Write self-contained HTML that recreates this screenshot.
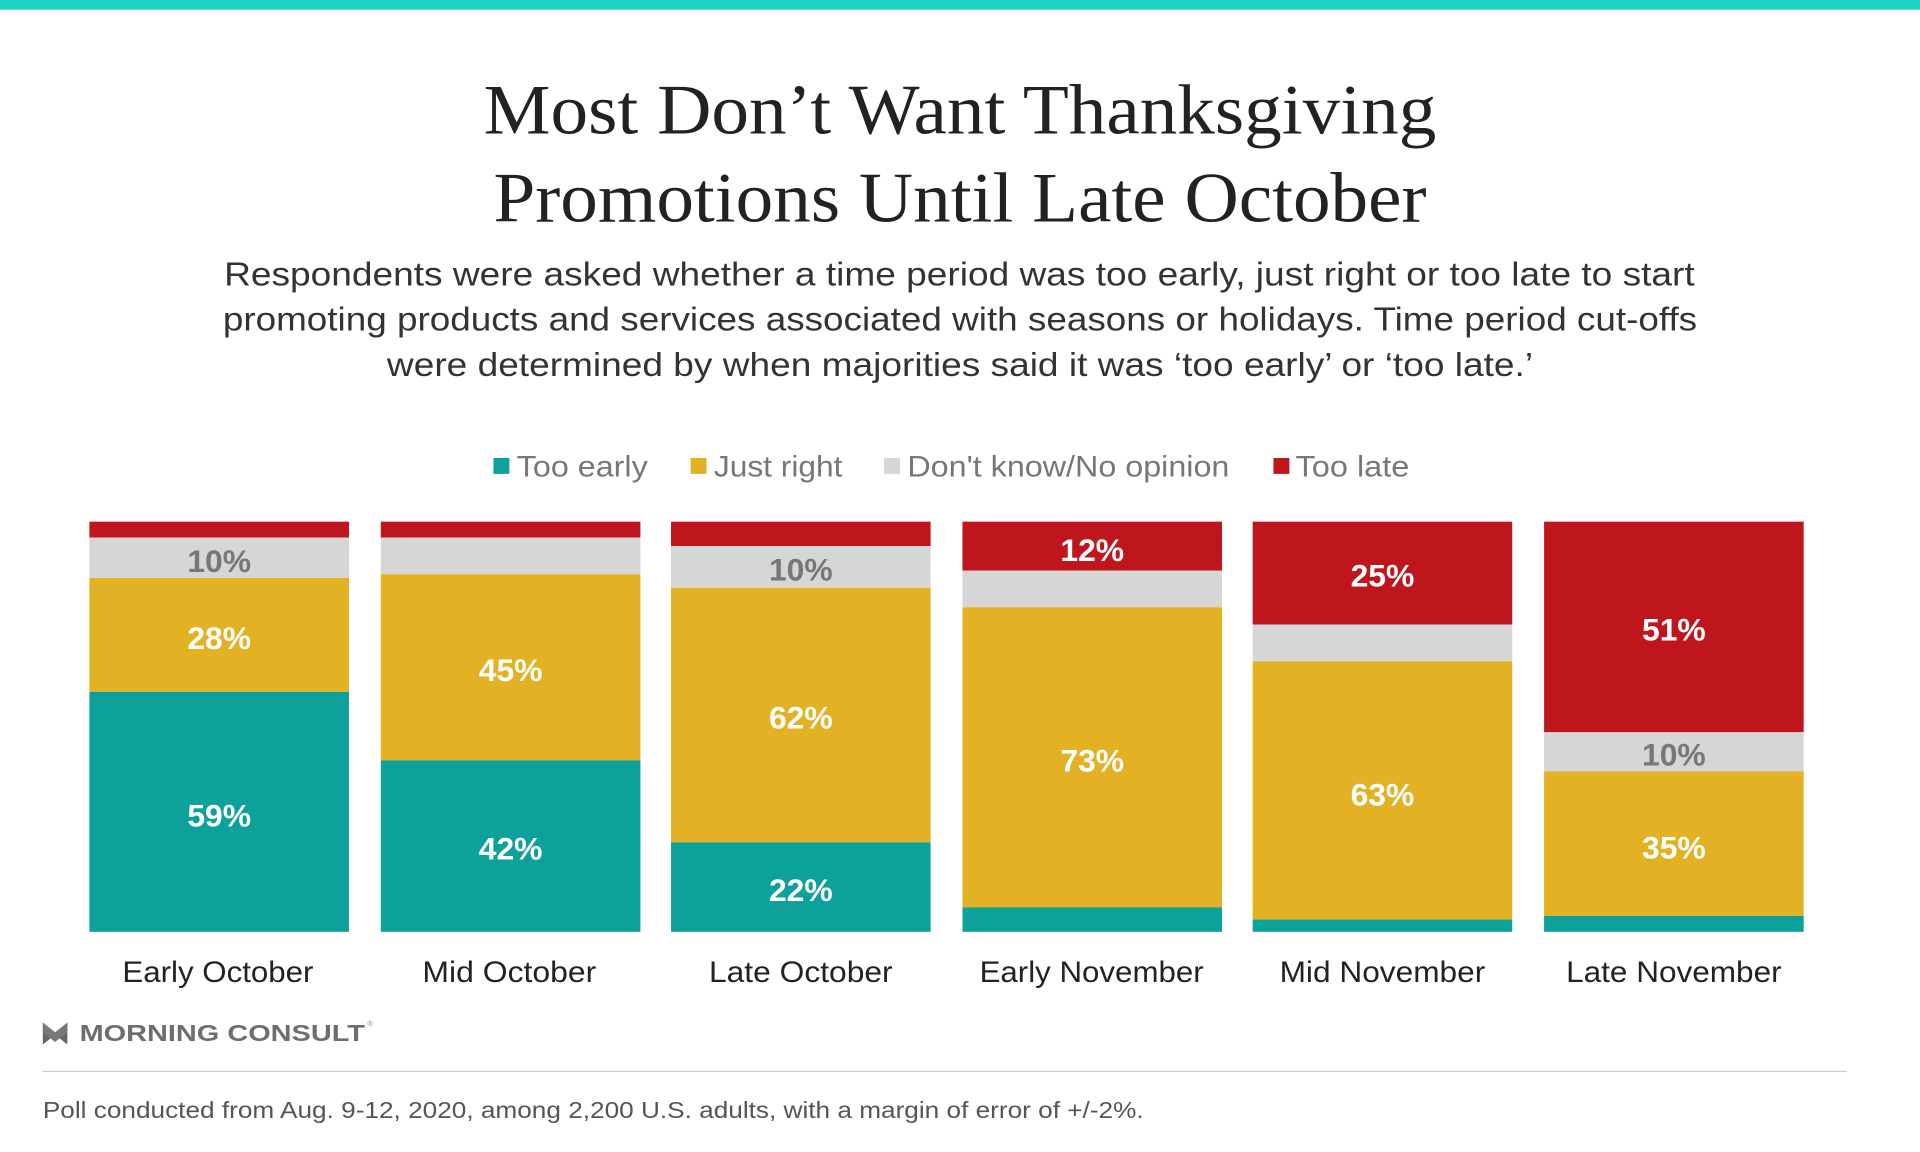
<!DOCTYPE html>
<html><head><meta charset="utf-8"><style>
html,body{margin:0;padding:0;background:#fff;}
svg{display:block;}
</style></head><body>
<svg width="1920" height="1152" viewBox="0 0 1568 940.8" preserveAspectRatio="none" xmlns="http://www.w3.org/2000/svg">
<rect x="0" y="0" width="1568" height="8" fill="#1fd3c6"/>
<g font-family="Liberation Serif, serif" font-size="58" fill="#222" lengthAdjust="spacingAndGlyphs">
<text x="395" y="109" textLength="778" lengthAdjust="spacingAndGlyphs">Most Don’t Want Thanksgiving</text>
<text x="403" y="181" textLength="762" lengthAdjust="spacingAndGlyphs">Promotions Until Late October</text>
</g>
<g font-family="Liberation Sans, sans-serif" font-size="27" fill="#333">
<text x="183" y="233" textLength="1201" lengthAdjust="spacingAndGlyphs">Respondents were asked whether a time period was too early, just right or too late to start</text>
<text x="182" y="270" textLength="1204" lengthAdjust="spacingAndGlyphs">promoting products and services associated with seasons or holidays. Time period cut-offs</text>
<text x="316" y="307" textLength="936" lengthAdjust="spacingAndGlyphs">were determined by when majorities said it was ‘too early’ or ‘too late.’</text>
</g>
<g font-family="Liberation Sans, sans-serif" font-size="24" fill="#777">
<rect x="403" y="374" width="13" height="13" fill="#0ca19a"/><text x="422" y="389" textLength="107" lengthAdjust="spacingAndGlyphs">Too early</text>
<rect x="564" y="374" width="13" height="13" fill="#e2b224"/><text x="583" y="389" textLength="105" lengthAdjust="spacingAndGlyphs">Just right</text>
<rect x="722" y="374" width="13" height="13" fill="#d6d6d6"/><text x="741" y="389" textLength="263" lengthAdjust="spacingAndGlyphs">Don't know/No opinion</text>
<rect x="1040" y="374" width="13" height="13" fill="#be161c"/><text x="1058" y="389" textLength="93" lengthAdjust="spacingAndGlyphs">Too late</text>
</g>
<g>
<rect x="73" y="426" width="212" height="13" fill="#be161c"/>
<rect x="73" y="439" width="212" height="33" fill="#d6d6d6"/>
<rect x="73" y="472" width="212" height="93" fill="#e2b224"/>
<rect x="73" y="565" width="212" height="196" fill="#0ca19a"/>
<rect x="311" y="426" width="212" height="13" fill="#be161c"/>
<rect x="311" y="439" width="212" height="30" fill="#d6d6d6"/>
<rect x="311" y="469" width="212" height="152" fill="#e2b224"/>
<rect x="311" y="621" width="212" height="140" fill="#0ca19a"/>
<rect x="548" y="426" width="212" height="20" fill="#be161c"/>
<rect x="548" y="446" width="212" height="34" fill="#d6d6d6"/>
<rect x="548" y="480" width="212" height="208" fill="#e2b224"/>
<rect x="548" y="688" width="212" height="73" fill="#0ca19a"/>
<rect x="786" y="426" width="212" height="40" fill="#be161c"/>
<rect x="786" y="466" width="212" height="30" fill="#d6d6d6"/>
<rect x="786" y="496" width="212" height="245" fill="#e2b224"/>
<rect x="786" y="741" width="212" height="20" fill="#0ca19a"/>
<rect x="1023" y="426" width="212" height="84" fill="#be161c"/>
<rect x="1023" y="510" width="212" height="30" fill="#d6d6d6"/>
<rect x="1023" y="540" width="212" height="211" fill="#e2b224"/>
<rect x="1023" y="751" width="212" height="10" fill="#0ca19a"/>
<rect x="1261" y="426" width="212" height="172" fill="#be161c"/>
<rect x="1261" y="598" width="212" height="32" fill="#d6d6d6"/>
<rect x="1261" y="630" width="212" height="118" fill="#e2b224"/>
<rect x="1261" y="748" width="212" height="13" fill="#0ca19a"/>
</g>
<g font-family="Liberation Sans, sans-serif" font-weight="bold" font-size="26" text-anchor="middle" fill="#fff">
<text x="179" y="467" fill="#777">10%</text>
<text x="179" y="530">28%</text>
<text x="179" y="675">59%</text>
<text x="417" y="556">45%</text>
<text x="417" y="702">42%</text>
<text x="654" y="474" fill="#777">10%</text>
<text x="654" y="595">62%</text>
<text x="654" y="736">22%</text>
<text x="892" y="458">12%</text>
<text x="892" y="630">73%</text>
<text x="1129" y="479">25%</text>
<text x="1129" y="658">63%</text>
<text x="1367" y="523">51%</text>
<text x="1367" y="625" fill="#777">10%</text>
<text x="1367" y="701">35%</text>
</g>
<g font-family="Liberation Sans, sans-serif" font-size="24" fill="#222">
<text x="100" y="802" textLength="156" lengthAdjust="spacingAndGlyphs">Early October</text>
<text x="345" y="802" textLength="142" lengthAdjust="spacingAndGlyphs">Mid October</text>
<text x="579" y="802" textLength="150" lengthAdjust="spacingAndGlyphs">Late October</text>
<text x="800" y="802" textLength="183" lengthAdjust="spacingAndGlyphs">Early November</text>
<text x="1045" y="802" textLength="168" lengthAdjust="spacingAndGlyphs">Mid November</text>
<text x="1279" y="802" textLength="176" lengthAdjust="spacingAndGlyphs">Late November</text>
</g>
<path d="M35 835 L45 845 L55 835 L55 853 L45 845 L35 853 Z" fill="#666"/>
<path d="M35 835 L45 843 L55 835 L55 843 L45 851 L35 843 Z" fill="#777"/>
<text x="65" y="850" font-family="Liberation Sans, sans-serif" font-weight="bold" font-size="19" fill="#6e6e6e" textLength="233" lengthAdjust="spacingAndGlyphs">MORNING CONSULT</text>
<text x="300" y="838" font-family="Liberation Sans, sans-serif" font-size="6" fill="#888">®</text>
<rect x="35" y="874.5" width="1473" height="1" fill="#ccc"/>
<text x="35" y="913" font-family="Liberation Sans, sans-serif" font-size="19" fill="#555" textLength="899" lengthAdjust="spacingAndGlyphs">Poll conducted from Aug. 9-12, 2020, among 2,200 U.S. adults, with a margin of error of +/-2%.</text>
</svg>
</body></html>
